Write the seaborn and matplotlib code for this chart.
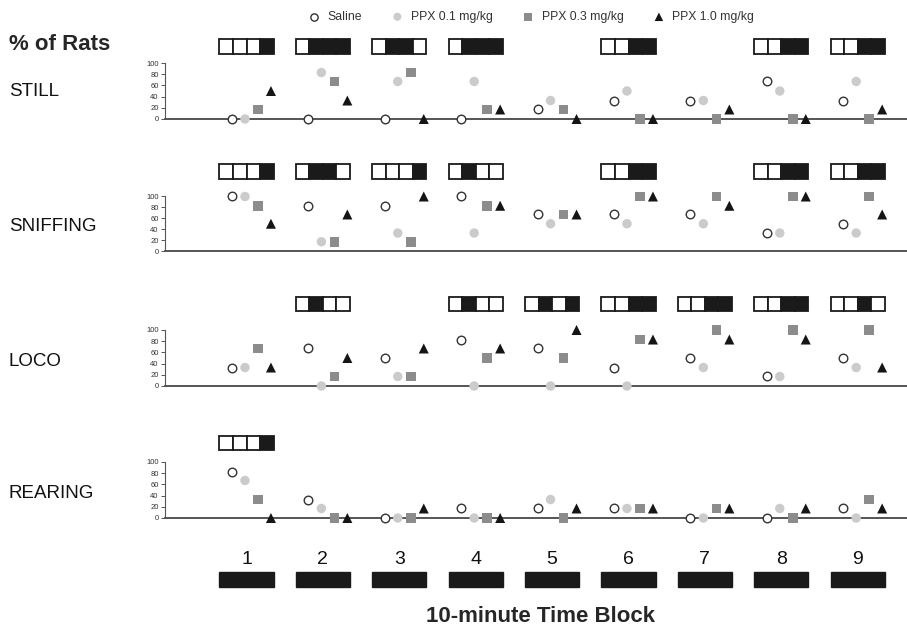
import pandas as pd
import seaborn as sns
import matplotlib.pyplot as plt
from matplotlib.patches import Rectangle
from matplotlib.transforms import blended_transform_factory

# --- data ---
blocks = [1, 2, 3, 4, 5, 6, 7, 8, 9]
doses = ["Saline", "PPX 0.1 mg/kg", "PPX 0.3 mg/kg", "PPX 1.0 mg/kg"]
behaviours = ["STILL", "SNIFFING", "LOCO", "REARING"]

still_saline = [0, 0, 0, 0, 17, 33, 33, 67, 33]
still_ppx01 = [0, 83, 67, 67, 33, 50, 33, 50, 67]
still_ppx03 = [17, 67, 83, 17, 17, 0, 0, 0, 0]
still_ppx10 = [50, 33, 0, 17, 0, 0, 17, 0, 17]

sniff_saline = [100, 83, 83, 100, 67, 67, 67, 33, 50]
sniff_ppx01 = [100, 17, 33, 33, 50, 50, 50, 33, 33]
sniff_ppx03 = [83, 17, 17, 83, 67, 100, 100, 100, 100]
sniff_ppx10 = [50, 67, 100, 83, 67, 100, 83, 100, 67]

loco_saline = [33, 67, 50, 83, 67, 33, 50, 17, 50]
loco_ppx01 = [33, 0, 17, 0, 0, 0, 33, 17, 33]
loco_ppx03 = [67, 17, 17, 50, 50, 83, 100, 100, 100]
loco_ppx10 = [33, 50, 67, 67, 100, 83, 83, 83, 33]

rear_saline = [83, 33, 0, 17, 17, 17, 0, 0, 17]
rear_ppx01 = [67, 17, 0, 0, 33, 17, 0, 17, 0]
rear_ppx03 = [33, 0, 0, 0, 0, 17, 17, 0, 33]
rear_ppx10 = [0, 0, 17, 0, 17, 17, 17, 17, 17]

# significance boxes: 1 = black cell, 0 = white cell, None = no box
still_boxes = ["0001", "0111", "0110", "0111", None, "0011", None, "0011", "0011"]
sniff_boxes = ["0001", "0110", "0001", "0100", None, "0011", None, "0011", "0011"]
loco_boxes = [None, "0100", None, "0100", "0101", "0011", "0011", "0011", "0010"]
rear_boxes = ["0001", None, None, None, None, None, None, None, None]

values = {
    "STILL": [still_saline, still_ppx01, still_ppx03, still_ppx10],
    "SNIFFING": [sniff_saline, sniff_ppx01, sniff_ppx03, sniff_ppx10],
    "LOCO": [loco_saline, loco_ppx01, loco_ppx03, loco_ppx10],
    "REARING": [rear_saline, rear_ppx01, rear_ppx03, rear_ppx10],
}
boxes = {"STILL": still_boxes, "SNIFFING": sniff_boxes,
         "LOCO": loco_boxes, "REARING": rear_boxes}

rows = []
for beh in behaviours:
    for dose, vals in zip(doses, values[beh]):
        for b, v in zip(blocks, vals):
            rows.append({"behaviour": beh, "dose": dose, "block": b, "pct": v})
df = pd.DataFrame(rows)

# --- styling ---
sns.set_style("white")
plt.rcParams["font.family"] = ["Liberation Sans", "DejaVu Sans"]

W, H = 907, 630
fig = plt.figure(figsize=(W / 100, H / 100), dpi=100)

dose_style = {
    "Saline": dict(marker="o", s=38, color="white", edgecolor="#333333", linewidth=1.0),
    "PPX 0.1 mg/kg": dict(marker="o", s=46, color="#cbcbcb", edgecolor="none", linewidth=0),
    "PPX 0.3 mg/kg": dict(marker="s", s=48, color="#8c8c8c", edgecolor="none", linewidth=0),
    "PPX 1.0 mg/kg": dict(marker="^", s=52, color="#151515", edgecolor="none", linewidth=0),
}
offsets = [-0.19, -0.02, 0.15, 0.32]

# pixel geometry of rows: (y of 0, y of 100, box top, box bottom, label y)
row_geom = {
    "STILL": (119, 63, 39, 54, 91),
    "SNIFFING": (251, 196.5, 164, 179, 226),
    "LOCO": (386, 330, 297, 311, 362),
    "REARING": (518, 462, 436, 450, 494),
}
x_left_px, px_per_block, first_center = 165, 76.4, 246.5
xlim = (1 + (x_left_px - first_center) / px_per_block, 1 + (W - first_center) / px_per_block)
pad = 8
box_w = 0.71
line_col = "#555555"

for beh in behaviours:
    y0, y100, btop, bbot, ly = row_geom[beh]
    span = y0 - y100
    bottom_px = y0 + pad * span / 100
    top_px = y100 - pad * span / 100
    ax = fig.add_axes([x_left_px / W, 1 - bottom_px / H, 1 - x_left_px / W, (bottom_px - top_px) / H])
    ax.set_xlim(*xlim)
    ax.set_ylim(-pad, 100 + pad)

    sub = df[df["behaviour"] == beh]
    for i, dose in enumerate(doses):
        d = sub[sub["dose"] == dose].copy()
        d["x"] = d["block"] + offsets[i]
        sns.scatterplot(data=d, x="x", y="pct", ax=ax, zorder=4, clip_on=False,
                        legend=False, **dose_style[dose])

    for s in ["top", "right"]:
        ax.spines[s].set_visible(False)
    ax.spines["bottom"].set_position(("data", 0))
    ax.spines["bottom"].set_color(line_col)
    ax.spines["bottom"].set_linewidth(1.4)
    ax.spines["left"].set_bounds(0, 100)
    ax.spines["left"].set_color(line_col)
    ax.spines["left"].set_linewidth(0.8)
    ax.set_xticks([])
    ax.set_yticks([0, 20, 40, 60, 80, 100])
    ax.tick_params(axis="y", length=3, width=0.7, color=line_col, labelsize=5.5,
                   labelcolor="#333333", pad=1.5, left=True)
    ax.set_xlabel("")
    ax.set_ylabel("")
    ax.patch.set_alpha(0)

    fig.text(9 / W, 1 - ly / H, beh, fontsize=13.5, va="center", ha="left", color="#111111")

    # significance boxes above the row
    tr = blended_transform_factory(ax.transData, fig.transFigure)
    for b, pattern in zip(blocks, boxes[beh]):
        if pattern is None:
            continue
        cw = box_w / 4
        x0 = b - box_w / 2
        for j, c in enumerate(pattern):
            ax.add_patch(Rectangle((x0 + j * cw, 1 - bbot / H), cw, (bbot - btop) / H,
                                   transform=tr, clip_on=False,
                                   facecolor="#1a1a1a" if c == "1" else "white",
                                   edgecolor="#1a1a1a", linewidth=1.3))

    if beh == "REARING":
        for b in blocks:
            ax.add_patch(Rectangle((b - box_w / 2, 1 - 587 / H), box_w, 15 / H,
                                   transform=tr, clip_on=False,
                                   facecolor="#1a1a1a", edgecolor="#1a1a1a", linewidth=1))
            ax.text(b, 1 - 560 / H, str(b), transform=tr, ha="center", va="center",
                    fontsize=14, color="#111111")

fig.text(9 / W, 1 - 44 / H, "% of Rats", fontsize=16, fontweight="bold", va="center", ha="left")
fig.text(540 / W, 1 - 616 / H, "10-minute Time Block", fontsize=16, fontweight="bold",
         ha="center", va="center")

# legend
handles = [plt.scatter([], [], **dose_style[d]) for d in doses]
fig.legend(handles, doses, loc="center", bbox_to_anchor=(528 / W, 1 - 17 / H), ncol=4,
           frameon=False, fontsize=8.8, handletextpad=0.1, columnspacing=1.9,
           labelcolor="#333333", markerscale=0.85)

plt.savefig("out.png", dpi=100)
plt.close()
